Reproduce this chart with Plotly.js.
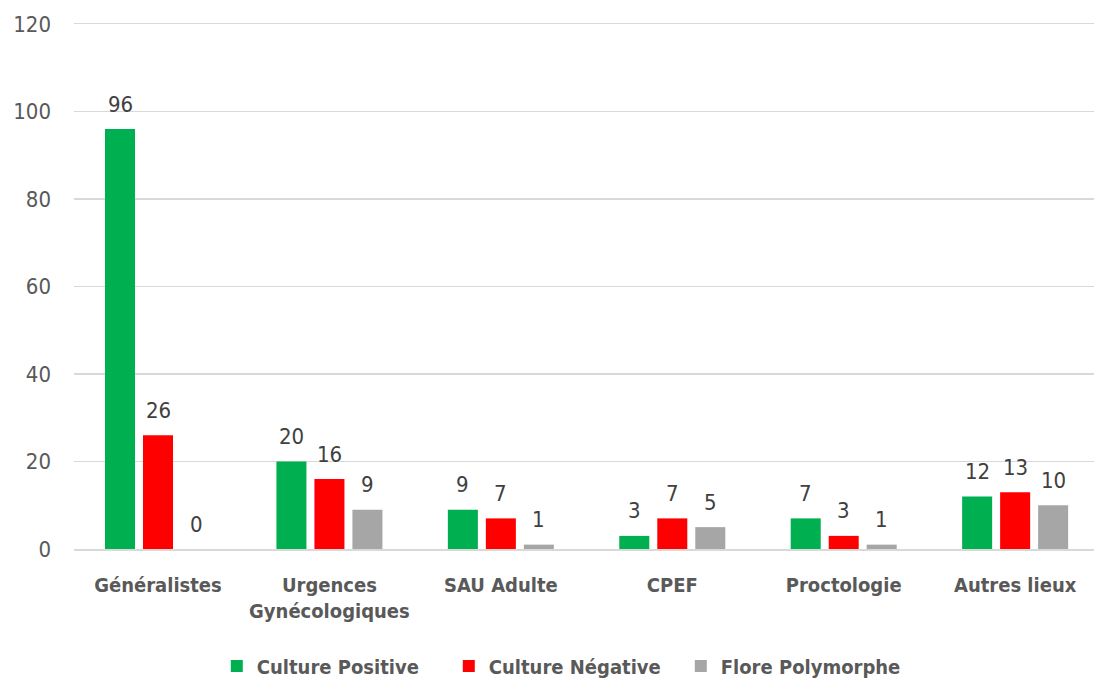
<!DOCTYPE html>
<html>
<head>
<meta charset="utf-8">
<script src="https://cdn.plot.ly/plotly-3.0.1.min.js"></script>
<style>
  html, body { margin: 0; padding: 0; background: #ffffff; }
  #chart { width: 1094px; height: 679px; }
</style>
</head>
<body>
<div id="chart"></div>
<script>
// Prélèvements par lieu de consultation
const categories = ['Généralistes', 'Urgences<br>Gynécologiques', 'SAU Adulte', 'CPEF', 'Proctologie', 'Autres lieux'];
const seriesNames = ['Culture Positive', 'Culture Négative', 'Flore Polymorphe'];
const culturePositive = [96, 20, 9, 3, 7, 12];
const cultureNegative = [26, 16, 7, 7, 3, 13];
const florePolymorphe = [0, 9, 1, 5, 1, 10];
const yTicks = [0, 20, 40, 60, 80, 100, 120];

const FONT = '"DejaVu Sans Condensed", "Liberation Sans Narrow", "Arial Narrow", Arial, sans-serif';
const COLORS = ['#00B050', '#FF0000', '#A6A6A6'];
const SLOT_PX = 38;      // horizontal distance between neighbouring bars of a group
const LABEL_LIFT = 25;   // value label centre above the bar top, in px

const allValues = [culturePositive, cultureNegative, florePolymorphe];

const data = allValues.map((values, i) => ({
  type: 'bar',
  name: seriesNames[i],
  x: categories,
  y: values,
  marker: { color: COLORS[i] },
  hoverinfo: 'x+y+name'
}));

// Value labels above each bar
const annotations = [];
allValues.forEach((values, i) => {
  values.forEach((v, j) => {
    annotations.push({
      x: categories[j],
      y: v,
      xref: 'x',
      yref: 'y',
      text: String(v),
      showarrow: false,
      xanchor: 'center',
      yanchor: 'middle',
      xshift: (i - 1) * SLOT_PX,
      yshift: LABEL_LIFT,
      font: { family: FONT, size: 22, color: '#404040' }
    });
  });
});

const layout = {
  width: 1094,
  height: 679,
  margin: { l: 74, r: 0, t: 24, b: 130, autoexpand: false },
  paper_bgcolor: '#ffffff',
  plot_bgcolor: '#ffffff',
  barmode: 'group',
  bargap: 0.335,
  bargroupgap: 0.21,
  font: { family: FONT, color: '#595959' },
  xaxis: {
    type: 'category',
    range: [-0.49, 5.46],
    showgrid: false,
    showline: true,
    mirror: true,
    linecolor: '#d9d9d9',
    linewidth: 1.5,
    ticks: '',
    tickfont: { family: FONT, size: 20, color: '#595959', weight: 'bold' },
    ticklabelstandoff: 17
  },
  yaxis: {
    range: [0, 120],
    tickvals: yTicks,
    ticktext: yTicks.map(String),
    showgrid: true,
    gridcolor: '#d9d9d9',
    gridwidth: 1.5,
    zeroline: false,
    showline: false,
    ticks: '',
    tickfont: { family: FONT, size: 22, color: '#595959' },
    ticklabelstandoff: 22
  },
  legend: {
    orientation: 'h',
    x: 0.140,
    xanchor: 'left',
    y: -0.223,
    yanchor: 'middle',
    font: { family: FONT, size: 20, color: '#595959', weight: 'bold' },
    itemwidth: 30,
    entrywidth: 187,
    entrywidthmode: 'pixels'
  },
  showlegend: true,
  annotations: annotations
};

Plotly.newPlot('chart', data, layout, { displayModeBar: false, staticPlot: true });
</script>
</body>
</html>
